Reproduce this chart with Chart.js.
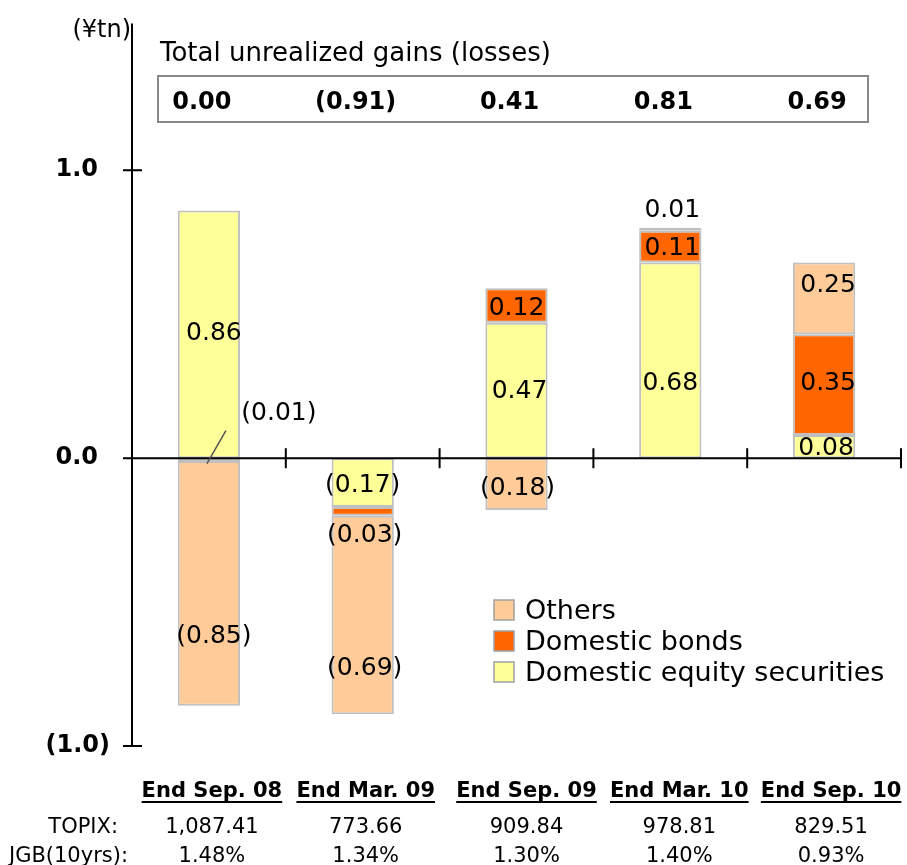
<!DOCTYPE html>
<html>
<head>
<meta charset="utf-8">
<script src="https://cdn.jsdelivr.net/npm/chart.js@4.4.0/dist/chart.umd.min.js"></script>
<style>
  body { margin: 0; background: #fff; }
  #wrap { width: 907px; height: 865px; position: relative; }
</style>
</head>
<body>
<div id="wrap"><canvas id="chart"></canvas></div>
<script>
// data
var categories = ['End Sep. 08', 'End Mar. 09', 'End Sep. 09', 'End Mar. 10', 'End Sep. 10'];
var equity = [0.86, -0.17, 0.47, 0.68, 0.08];
var bonds = [-0.01, -0.03, 0.12, 0.11, 0.35];
var others = [-0.85, -0.69, -0.18, 0.01, 0.25];
var totals = [0.00, -0.91, 0.41, 0.81, 0.69];
var topix = ['1,087.41', '773.66', '909.84', '978.81', '829.51'];
var jgb = ['1.48%', '1.34%', '1.30%', '1.40%', '0.93%'];
var yTicks = [-1, 0, 1];

// label nudges in px (equity, bonds, others)
var labelOffsets = [
    [[5, -1], [0, 3], [3, 1], [0, 23], [2, 2]],
    [[70, -46], [2, 24], [0, 3], [2, 2], [4, -1]],
    [[5, 53], [2, 53], [1, 4], [2, -19], [4, -13]]
];
var tableShift = [3, 3, 10, 9, 7];

var FONT = '"DejaVu Sans", sans-serif';

function fmt(v, d) {
    var s = Math.abs(v).toFixed(d);
    return v < 0 ? '(' + s + ')' : s;
}

var extras = {
    id: 'extras',
    afterDraw: function(chart) {
        var ctx = chart.ctx;
        var xs = chart.scales.x, ys = chart.scales.y, area = chart.chartArea;
        var y0 = ys.getPixelForValue(0);
        var catW = (area.right - area.left) / categories.length;
        ctx.save();

        // axes
        ctx.strokeStyle = '#000';
        ctx.lineWidth = 2;
        ctx.beginPath();
        ctx.moveTo(area.left, ys.getPixelForValue(1.51));
        ctx.lineTo(area.left, area.bottom + 1);
        ctx.moveTo(area.left - 9, y0);
        ctx.lineTo(area.right, y0);
        yTicks.forEach(function(v) {
            var py = ys.getPixelForValue(v);
            ctx.moveTo(area.left - 9, py);
            ctx.lineTo(area.left + 10, py);
        });
        for (var k = 1; k <= categories.length; k++) {
            var px = area.left + k * catW;
            ctx.moveTo(px, y0 - 10);
            ctx.lineTo(px, y0 + 10);
        }
        ctx.stroke();

        // segment labels
        ctx.fillStyle = '#000';
        ctx.font = '25px ' + FONT;
        ctx.textAlign = 'center';
        ctx.textBaseline = 'middle';
        chart.data.datasets.forEach(function(ds, d) {
            chart.getDatasetMeta(d).data.forEach(function(bar, i) {
                var off = labelOffsets[d][i];
                var cy = (bar.y + bar.base) / 2;
                ctx.fillText(fmt(ds.data[i], 2), bar.x + off[0], cy + off[1]);
                if (d === 1 && i === 0) {
                    ctx.strokeStyle = '#555';
                    ctx.lineWidth = 1.5;
                    ctx.beginPath();
                    ctx.moveTo(bar.x - 2, cy + 4);
                    ctx.lineTo(bar.x + 17, cy - 29);
                    ctx.stroke();
                }
            });
        });

        // unit + totals box
        ctx.textBaseline = 'alphabetic';
        ctx.textAlign = 'right';
        ctx.font = '24px ' + FONT;
        ctx.fillText('(\u00a5tn)', 131, 37);
        ctx.textAlign = 'left';
        ctx.font = '26px ' + FONT;
        ctx.fillText('Total unrealized gains (losses)', 160, 61);
        ctx.strokeStyle = '#888';
        ctx.lineWidth = 2;
        ctx.strokeRect(158, 76, 710, 46);
        ctx.textAlign = 'center';
        ctx.font = 'bold 24px ' + FONT;
        var bars = chart.getDatasetMeta(0).data;
        totals.forEach(function(v, i) {
            ctx.fillText(fmt(v, 2), bars[i].x - 7, 109);
        });

        // legend
        var legendRows = [2, 1, 0];
        legendRows.forEach(function(d, r) {
            var ds = chart.data.datasets[d];
            var cy = 610 + r * 31;
            ctx.fillStyle = ds.backgroundColor;
            ctx.fillRect(494, cy - 10, 20, 20);
            ctx.strokeStyle = '#a0a0a0';
            ctx.lineWidth = 1.5;
            ctx.strokeRect(494, cy - 10, 20, 20);
            ctx.fillStyle = '#000';
            ctx.textAlign = 'left';
            ctx.textBaseline = 'middle';
            ctx.font = '27px ' + FONT;
            ctx.fillText(ds.label, 525, cy + 2);
        });

        // table under the chart
        ctx.textBaseline = 'alphabetic';
        ctx.fillStyle = '#000';
        ctx.textAlign = 'right';
        ctx.font = '21px ' + FONT;
        ctx.fillText('TOPIX:', 118, 833);
        ctx.fillText('JGB(10yrs):', 128, 862);
        ctx.textAlign = 'center';
        categories.forEach(function(c, i) {
            var cx = bars[i].x + tableShift[i];
            ctx.font = 'bold 21px ' + FONT;
            ctx.fillText(c, cx, 797);
            var w = ctx.measureText(c).width;
            ctx.fillRect(cx - w / 2, 801, w, 2);
            ctx.font = '21px ' + FONT;
            ctx.fillText(topix[i], cx, 833);
            ctx.fillText(jgb[i], cx, 862);
        });
        ctx.restore();
    }
};

var ctx = document.getElementById('chart').getContext('2d');
var myChart = new Chart(ctx, {
    type: 'bar',
    data: {
        labels: categories,
        datasets: [{
            label: 'Domestic equity securities',
            data: equity,
            backgroundColor: '#FFFF99',
            borderColor: '#C0C0C0',
            borderWidth: 2,
            borderSkipped: false
        }, {
            label: 'Domestic bonds',
            data: bonds,
            backgroundColor: '#FF6600',
            borderColor: '#C0C0C0',
            borderWidth: 2,
            borderSkipped: false
        }, {
            label: 'Others',
            data: others,
            backgroundColor: '#FFCC99',
            borderColor: '#C0C0C0',
            borderWidth: 2,
            borderSkipped: false
        }]
    },
    options: {
        responsive: true,
        maintainAspectRatio: false,
        animation: false,
        barPercentage: 0.405,
        categoryPercentage: 1,
        layout: {
            padding: { top: 16, bottom: 119, left: 0, right: 6 }
        },
        plugins: {
            legend: { display: false },
            tooltip: { enabled: false }
        },
        scales: {
            x: {
                display: false,
                stacked: true
            },
            y: {
                stacked: true,
                min: -1,
                max: 1.465,
                afterBuildTicks: function(s) {
                    s.ticks = yTicks.map(function(v) { return { value: v }; });
                },
                afterFit: function(s) { s.width = 132; },
                grid: { display: false, drawTicks: false },
                border: { display: false },
                ticks: {
                    padding: 22,
                    color: '#000',
                    font: { family: FONT, size: 24, weight: 'bold' },
                    callback: function(v) {
                        return v < 0 ? fmt(v, 1) : fmt(v, 1) + '\u2002';
                    }
                }
            }
        }
    },
    plugins: [extras]
});
</script>
</body>
</html>
